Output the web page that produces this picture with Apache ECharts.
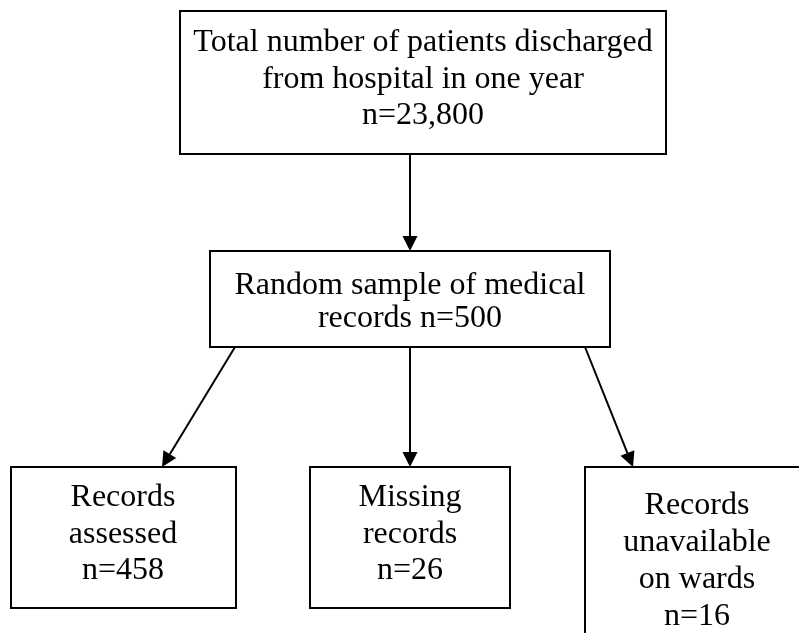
<!DOCTYPE html>
<html>
<head>
<meta charset="utf-8">
<script src="https://cdn.jsdelivr.net/npm/echarts@6/dist/echarts.min.js"></script>
<style>
  html, body { margin: 0; padding: 0; background: #fff; }
  #chart { width: 799px; height: 633px; }
</style>
</head>
<body>
<div id="chart"></div>
<script>
// flowchart content
var nodeNames = ['total', 'sample', 'assessed', 'missing', 'unavailable'];
var nodeLines = [
  ['Total number of patients discharged', 'from hospital in one year', 'n=23,800'],
  ['Random sample of medical', 'records n=500'],
  ['Records', 'assessed', 'n=458'],
  ['Missing', 'records', 'n=26'],
  ['Records', 'unavailable', 'on wards', 'n=16']
];
var links = [
  ['total', 'sample'],
  ['sample', 'assessed'],
  ['sample', 'missing'],
  ['sample', 'unavailable']
];

// layout (pixel space of the picture)
var boxRect = {
  total:       [180, 11, 666, 154],
  sample:      [210, 251, 610, 347],
  assessed:    [11, 467, 236, 608],
  missing:     [310, 467, 510, 608],
  unavailable: [585, 467, 810, 720]
};
var textPos = {   // [center x, first baseline, line gap]
  total:       [423, 52, 36.5],
  sample:      [410, 295, 33],
  assessed:    [123, 507, 36.5],
  missing:     [410, 507, 36.5],
  unavailable: [697, 515, 36.7]
};
var linkPos = [
  [410, 154, 410, 251],
  [235, 347, 162, 467],
  [410, 347, 410, 467],
  [585, 347, 633, 467]
];

var dom = document.getElementById('chart');
var myChart = echarts.init(dom, null, {renderer: 'canvas'});

var font = 'Liberation Serif, Times New Roman, serif';
var descent = 7; // bottom-aligned text box sits this far below the baseline

var boxData = nodeNames.map(function (n, i) {
  var r = boxRect[n];
  return [r[0], r[1], r[2], r[3], i];
});
var linkData = links.map(function (l, i) {
  return linkPos[i];
});

var option = {
  backgroundColor: '#fff',
  animation: false,
  grid: {left: 0, right: 0, top: 0, bottom: 0},
  xAxis: {type: 'value', min: 0, max: 799, show: false},
  yAxis: {type: 'value', min: 0, max: 633, inverse: true, show: false},
  series: [
    {
      type: 'custom',
      clip: false,
      data: boxData,
      renderItem: function (params, api) {
        var p0 = api.coord([api.value(0), api.value(1)]);
        var p1 = api.coord([api.value(2), api.value(3)]);
        var idx = api.value(4);
        var name = nodeNames[idx];
        var tp = textPos[name];
        var children = [{
          type: 'rect',
          shape: {x: p0[0], y: p0[1], width: p1[0] - p0[0], height: p1[1] - p0[1]},
          style: {fill: '#fff', stroke: '#000', lineWidth: 2}
        }];
        nodeLines[idx].forEach(function (t, k) {
          var c = api.coord([tp[0], tp[1] + k * tp[2]]);
          children.push({
            type: 'text',
            x: c[0], y: c[1] + descent,
            style: {
              text: t, fill: '#000',
              font: '32px ' + font,
              align: 'center', verticalAlign: 'bottom'
            }
          });
        });
        return {type: 'group', children: children};
      }
    },
    {
      type: 'custom',
      clip: false,
      data: linkData,
      renderItem: function (params, api) {
        var a = api.coord([api.value(0), api.value(1)]);
        var b = api.coord([api.value(2), api.value(3)]);
        var dx = b[0] - a[0], dy = b[1] - a[1];
        var len = Math.sqrt(dx * dx + dy * dy);
        var ux = dx / len, uy = dy / len;
        var hl = 15, hw = 7.5;
        var bx = b[0] - ux * hl, by = b[1] - uy * hl;
        return {
          type: 'group',
          children: [
            {
              type: 'line',
              shape: {x1: a[0], y1: a[1], x2: bx, y2: by},
              style: {stroke: '#000', lineWidth: 2}
            },
            {
              type: 'polygon',
              shape: {points: [
                [b[0], b[1]],
                [bx - uy * hw, by + ux * hw],
                [bx + uy * hw, by - ux * hw]
              ]},
              style: {fill: '#000'}
            }
          ]
        };
      }
    }
  ]
};

myChart.setOption(option);
</script>
</body>
</html>
